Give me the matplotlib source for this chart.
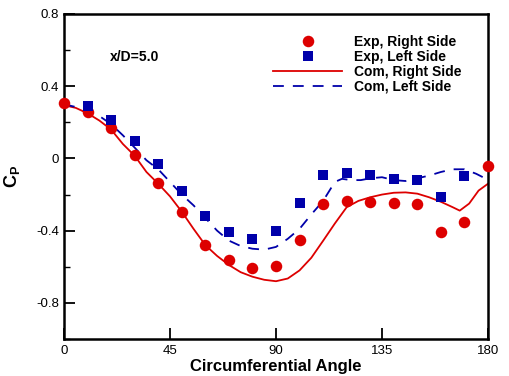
import matplotlib
matplotlib.use('Agg')
import matplotlib.pyplot as plt
from matplotlib.ticker import MultipleLocator

plt.rcParams['font.family'] = ['Liberation Sans', 'DejaVu Sans']
plt.rcParams['mathtext.fontset'] = 'custom'
plt.rcParams['mathtext.rm'] = 'Liberation Sans'
plt.rcParams['mathtext.bf'] = 'Liberation Sans:bold'

# Experimental data (every 10 degrees)
exp_right_angle = [0, 10, 20, 30, 40, 50, 60, 70, 80, 90, 100, 110, 120, 130, 140, 150, 160, 170, 180]
exp_right_cp = [0.305, 0.255, 0.167, 0.02, -0.135, -0.295, -0.48, -0.56, -0.605, -0.594,
                -0.452, -0.254, -0.237, -0.243, -0.248, -0.252, -0.41, -0.35, -0.043]

exp_left_angle = [10, 20, 30, 40, 50, 60, 70, 80, 90, 100, 110, 120, 130, 140, 150, 160, 170]
exp_left_cp = [0.29, 0.215, 0.098, -0.033, -0.178, -0.317, -0.405, -0.446, -0.40,
               -0.246, -0.089, -0.083, -0.094, -0.113, -0.122, -0.211, -0.10]

# Computed curves
com_right_angle = [0, 5, 10, 15, 20, 25, 30, 35, 40, 45, 50, 55, 60, 65, 70, 75, 80, 85, 90,
                   95, 100, 105, 110, 115, 120, 125, 130, 135, 140, 145, 150, 155, 160, 165,
                   168, 172, 176, 180]
com_right_cp = [0.295, 0.28, 0.25, 0.21, 0.16, 0.08, 0.015, -0.075, -0.14, -0.21, -0.295,
                -0.39, -0.48, -0.54, -0.59, -0.63, -0.655, -0.672, -0.68, -0.665, -0.62,
                -0.55, -0.456, -0.36, -0.27, -0.235, -0.215, -0.20, -0.19, -0.188, -0.195,
                -0.215, -0.24, -0.27, -0.289, -0.25, -0.178, -0.14]

com_left_angle = [0, 5, 10, 15, 20, 25, 30, 35, 40, 45, 50, 55, 60, 65, 70, 75, 80, 85, 90,
                  95, 100, 105, 110, 115, 118, 122, 126, 130, 135, 140, 145, 150, 155, 160,
                  165, 170, 175, 178]
com_left_cp = [0.30, 0.285, 0.265, 0.235, 0.19, 0.128, 0.06, -0.01, -0.06, -0.13, -0.2,
               -0.26, -0.33, -0.40, -0.455, -0.485, -0.5, -0.505, -0.49, -0.445, -0.39,
               -0.31, -0.235, -0.13, -0.113, -0.12, -0.12, -0.11, -0.104, -0.12, -0.125,
               -0.11, -0.095, -0.075, -0.06, -0.06, -0.085, -0.105]

red = '#dd0000'
blue = '#0000aa'

fig = plt.figure(figsize=(5.1, 3.76), dpi=100)
ax = fig.add_axes([64/510, 1-339/376, 424/510, 325/376])

ax.plot(exp_right_angle, exp_right_cp, 'o', color=red, markersize=8.3, markeredgewidth=0,
        label='Exp, Right Side', clip_on=False, zorder=4)
ax.plot(exp_left_angle, exp_left_cp, 's', color=blue, markersize=7.6, markeredgewidth=0,
        label='Exp, Left Side', zorder=4)
ax.plot(com_right_angle, com_right_cp, '-', color=red, linewidth=1.3, label='Com, Right Side')
ax.plot(com_left_angle, com_left_cp, '--', color=blue, linewidth=1.3, dashes=(6, 5),
        label='Com, Left Side')

ax.set_xlim(0, 180)
ax.set_ylim(-1.0, 0.8)
ax.set_xticks([0, 45, 90, 135, 180])
ax.set_yticks([-0.8, -0.4, 0, 0.4, 0.8])
ax.set_yticklabels(['-0.8', '-0.4', '0', '0.4', '0.8'])
ax.yaxis.set_minor_locator(MultipleLocator(0.2))
ax.tick_params(axis='both', which='major', direction='in', length=8, width=1.3, labelsize=9.5,
               top=False, right=False)
ax.tick_params(axis='y', which='minor', direction='in', length=4, width=1.0, right=False)
ax.tick_params(axis='x', pad=4)
for s in ax.spines.values():
    s.set_linewidth(1.8)

ax.set_xlabel('Circumferential Angle', fontsize=12, fontweight='bold')
ax.xaxis.set_label_coords(0.5, -0.062)
ax.set_ylabel(r'$\mathbf{C}_\mathbf{P}$', fontsize=13)
ax.yaxis.set_label_coords(-0.1, 0.5)

ax.text(0.108, 0.868, 'x/D=5.0', transform=ax.transAxes, fontsize=10, fontweight='bold',
        va='center', ha='left')

leg = ax.legend(loc='upper left', bbox_to_anchor=(0.493, 0.935), frameon=False, numpoints=1,
                prop={'weight': 'bold', 'size': 10}, handlelength=5.0, handletextpad=0.85,
                borderpad=0, borderaxespad=0, labelspacing=0.06)

fig.savefig('out.png', dpi=100)
